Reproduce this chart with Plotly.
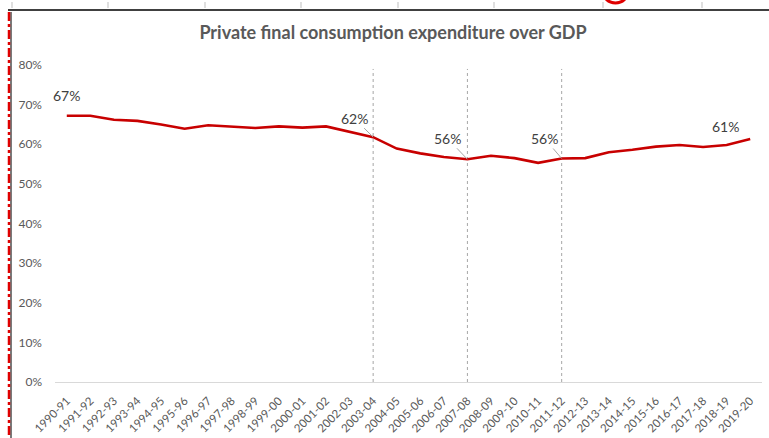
import plotly.graph_objects as go

# Private final consumption expenditure as a share of GDP (%), 1990-91 to 2019-20
years = ["1990-91", "1991-92", "1992-93", "1993-94", "1994-95", "1995-96", "1996-97",
         "1997-98", "1998-99", "1999-00", "2000-01", "2001-02", "2002-03", "2003-04",
         "2004-05", "2005-06", "2006-07", "2007-08", "2008-09", "2009-10", "2010-11",
         "2011-12", "2012-13", "2013-14", "2014-15", "2015-16", "2016-17", "2017-18",
         "2018-19", "2019-20"]
pfce_share = [67.2, 67.2, 66.2, 65.9, 65.0, 63.9, 64.8, 64.4, 64.1, 64.5,
              64.2, 64.5, 63.2, 61.8, 58.9, 57.7, 56.8, 56.2, 57.1, 56.5,
              55.3, 56.4, 56.5, 58.0, 58.6, 59.4, 59.8, 59.3, 59.8, 61.3]

y_ticks = [0, 10, 20, 30, 40, 50, 60, 70, 80]
y_tick_text = [f"{v}%" for v in y_ticks]

# Points that carry a value label, with the label offset (px) and whether a leader line is drawn
labelled = [(0, 0, -20, False), (13, -19, -19, True), (17, -20, -21, True),
            (21, -17, -20, True), (29, -25, -13, False)]
# Years marked with a vertical dotted reference line
marked_years = [13, 17, 21]

x_idx = list(range(len(years)))

W, H = 769, 438
L, R, T, B = 55, 7, 65, 56
PW, PH = W - L - R, H - T - B


def px(xp):
    return (xp - L) / PW


def py(yp):
    return (H - B - yp) / PH


fig = go.Figure()
fig.add_trace(go.Scatter(
    x=x_idx, y=pfce_share, mode="lines",
    line=dict(color="#C80000", width=2.6),
    hoverinfo="skip", showlegend=False,
))

annotations = []
for i, ax, ay, leader in labelled:
    annotations.append(dict(
        x=i, y=pfce_share[i], xref="x", yref="y",
        text=f"{pfce_share[i]:.0f}%", showarrow=True,
        ax=ax, ay=ay, arrowhead=0, arrowwidth=1,
        arrowcolor="#A6A6A6" if leader else "rgba(0,0,0,0)",
        standoff=0, startstandoff=0,
        font=dict(family="Lato", size=14, color="#404040"),
    ))

shapes = []
for i in marked_years:
    shapes.append(dict(type="line", xref="x", yref="y", x0=i, x1=i, y0=0, y1=79,
                       line=dict(color="#A6A6A6", width=1, dash="dot"), layer="below"))

# Page frame around the chart: top rule with ruler ticks, left margin guides
shapes.append(dict(type="line", xref="paper", yref="paper", x0=px(8), x1=px(769),
                   y0=py(10), y1=py(10), line=dict(color="#404040", width=2)))
for t in [12, 108, 205, 301, 398, 494, 603, 702]:
    shapes.append(dict(type="line", xref="paper", yref="paper", x0=px(t), x1=px(t),
                       y0=py(2), y1=py(8), line=dict(color="#BFBFBF", width=1)))
shapes.append(dict(type="circle", xref="paper", yref="paper", x0=px(603), x1=px(628),
                   y0=py(3), y1=py(-20), line=dict(color="#E00000", width=3)))
shapes.append(dict(type="line", xref="paper", yref="paper", x0=px(11), x1=px(11),
                   y0=py(12), y1=py(438), line=dict(color="#202020", width=1.2)))
shapes.append(dict(type="line", xref="paper", yref="paper", x0=px(9), x1=px(9),
                   y0=py(12), y1=py(438), line=dict(color="#E00000", width=2.5, dash="dashdot")))

fig.update_layout(
    width=W, height=H,
    margin=dict(l=L, r=R, t=T, b=B),
    paper_bgcolor="white", plot_bgcolor="white",
    title=dict(text="<b>Private final consumption expenditure over GDP</b>",
               x=393 / W, xref="container", xanchor="center",
               y=1 - 33 / H, yref="container", yanchor="middle",
               font=dict(family="Lato", size=18, color="#595959")),
    xaxis=dict(range=[-0.5, len(years) - 0.5], tickmode="array", tickvals=x_idx,
               ticktext=years, tickangle=-45, showgrid=False, zeroline=False,
               showline=False, ticks="", ticklabelstandoff=9, automargin=False,
               tickfont=dict(family="Lato", size=11.5, color="#595959")),
    yaxis=dict(range=[0, 80], tickmode="array", tickvals=y_ticks, ticktext=y_tick_text,
               showgrid=False, zeroline=True, zerolinecolor="#D9D9D9", zerolinewidth=1,
               showline=False, ticks="", ticklabelstandoff=12, automargin=False,
               tickfont=dict(family="Lato", size=12, color="#595959")),
    annotations=annotations,
    shapes=shapes,
)

fig.write_html("out.html")
